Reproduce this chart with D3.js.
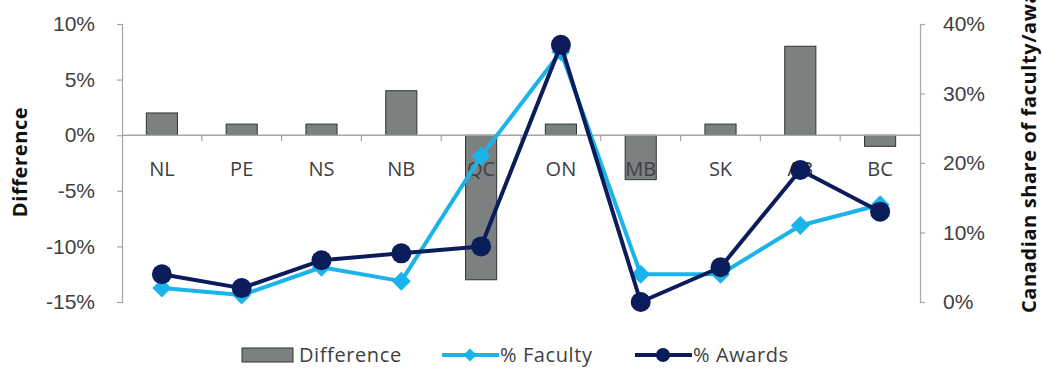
<!DOCTYPE html>
<html>
<head>
<meta charset="utf-8">
<script src="https://cdn.jsdelivr.net/npm/d3@7"></script>
<style>
  html, body { margin: 0; padding: 0; background: #fff; }
  svg { display: block; font-family: "Open Sans", "Noto Sans", sans-serif; }
</style>
</head>
<body>
<svg id="chart" width="1042" height="369"></svg>
<script>
// Provinces along the x axis
const provinces = ["NL", "PE", "NS", "NB", "QC", "ON", "MB", "SK", "AB", "BC"];
// Share of Canadian faculty (%), right axis
const facultyShare = [2, 1, 5, 3, 21, 36, 4, 4, 11, 14];
// Share of Canadian awards (%), right axis
const awardsShare = [4, 2, 6, 7, 8, 37, 0, 5, 19, 13];
// Awards minus faculty (%), left axis
const difference = [2, 1, 1, 4, -13, 1, -4, 1, 8, -1];
// Tick labels
const leftTicks = [10, 5, 0, -5, -10, -15];
const rightTicks = [0, 10, 20, 30, 40];

const svg = d3.select("#chart");
const plotLeft = 122, plotRight = 920, plotTop = 24, plotBottom = 302;
const fontSize = "21px";

const x = d3.scaleBand().domain(provinces).range([plotLeft, plotRight]).paddingInner(0).paddingOuter(0);
const yLeft = d3.scaleLinear().domain([-15, 10]).range([plotBottom, plotTop]);
const yRight = d3.scaleLinear().domain([0, 40]).range([plotBottom, plotTop]);

const axisColor = "#a6a6a6";
const textColor = "#404040";
const barFill = "#7b8180";
const barStroke = "#2f3432";
const facultyColor = "#1bb3ea";
const awardsColor = "#0b1c5a";

// Left axis
const gL = svg.append("g").attr("transform", `translate(${plotLeft},0)`)
  .call(d3.axisLeft(yLeft).tickValues(leftTicks).tickSize(5).tickPadding(22).tickFormat(d => d + "%"));
gL.select(".domain").attr("stroke", axisColor).attr("stroke-width", 1.2);
gL.selectAll(".tick line").attr("stroke", axisColor).attr("stroke-width", 1.2);
gL.selectAll(".tick text").attr("fill", textColor).style("font-size", fontSize);

// Right axis
const gR = svg.append("g").attr("transform", `translate(${plotRight},0)`)
  .call(d3.axisRight(yRight).tickValues(rightTicks).tickSize(5).tickPadding(18).tickFormat(d => d + "%"));
gR.select(".domain").attr("stroke", axisColor).attr("stroke-width", 1.2);
gR.selectAll(".tick line").attr("stroke", axisColor).attr("stroke-width", 1.2);
gR.selectAll(".tick text").attr("fill", textColor).style("font-size", fontSize);

// Category axis along the zero line
const y0 = yLeft(0);
const boundaries = provinces.slice(1).map(p => x(p));
svg.append("g").selectAll("line").data(boundaries).join("line")
  .attr("x1", d => d).attr("x2", d => d)
  .attr("y1", y0).attr("y2", y0 + 6)
  .attr("stroke", axisColor).attr("stroke-width", 1.2);

// Bars
const barW = x.bandwidth() * 0.39;
svg.append("g").selectAll("rect").data(provinces).join("rect")
  .attr("x", (d) => x(d) + (x.bandwidth() - barW) / 2)
  .attr("y", (d, i) => yLeft(Math.max(0, difference[i])))
  .attr("width", barW)
  .attr("height", (d, i) => Math.abs(yLeft(difference[i]) - y0))
  .attr("fill", barFill)
  .attr("stroke", barStroke)
  .attr("stroke-width", 1);

svg.append("line")
  .attr("x1", plotLeft).attr("x2", plotRight)
  .attr("y1", y0).attr("y2", y0)
  .attr("stroke", axisColor).attr("stroke-width", 1.5);

// Category labels
svg.append("g").selectAll("text").data(provinces).join("text")
  .attr("x", d => x(d) + x.bandwidth() / 2)
  .attr("y", y0 + 41)
  .attr("text-anchor", "middle")
  .attr("fill", textColor)
  .style("font-size", "20px")
  .text(d => d);

const cx = d => x(d) + x.bandwidth() / 2;

// % Faculty line with diamond markers
const lineF = d3.line().x((d, i) => cx(provinces[i])).y(d => yRight(d));
svg.append("path").datum(facultyShare)
  .attr("d", lineF).attr("fill", "none")
  .attr("stroke", facultyColor).attr("stroke-width", 4).attr("stroke-linejoin", "round");
const diamond = d3.symbol().type(d3.symbolDiamond2).size(230);
svg.append("g").selectAll("path").data(facultyShare).join("path")
  .attr("transform", (d, i) => `translate(${cx(provinces[i])},${yRight(d)})`)
  .attr("d", diamond)
  .attr("fill", facultyColor);

// % Awards line with circle markers
svg.append("path").datum(awardsShare)
  .attr("d", lineF).attr("fill", "none")
  .attr("stroke", awardsColor).attr("stroke-width", 4).attr("stroke-linejoin", "round");
svg.append("g").selectAll("circle").data(awardsShare).join("circle")
  .attr("cx", (d, i) => cx(provinces[i]))
  .attr("cy", d => yRight(d))
  .attr("r", 10)
  .attr("fill", awardsColor);

// Axis titles
svg.append("text")
  .attr("transform", `translate(27,162) rotate(-90)`)
  .attr("text-anchor", "middle")
  .attr("fill", "#111")
  .style("font-size", "20px").style("font-weight", "bold")
  .style("letter-spacing", "0.6px")
  .text("Difference");

svg.append("text")
  .attr("transform", `translate(1036,313) rotate(-90)`)
  .attr("text-anchor", "start")
  .attr("fill", "#111")
  .style("font-size", "20px").style("font-weight", "bold")
  .style("letter-spacing", "0.6px")
  .text("Canadian share of faculty/awards");

// Legend
const legY = 355;
const leg = svg.append("g").style("font-size", "20px").style("letter-spacing", "0.6px");
leg.append("rect").attr("x", 242).attr("y", legY - 7).attr("width", 51).attr("height", 14)
  .attr("fill", barFill).attr("stroke", barStroke).attr("stroke-width", 1);
leg.append("text").attr("x", 299).attr("y", legY + 7).attr("fill", textColor)
  .text("Difference");

leg.append("line").attr("x1", 442).attr("x2", 499).attr("y1", legY).attr("y2", legY)
  .attr("stroke", facultyColor).attr("stroke-width", 4);
leg.append("path").attr("transform", `translate(470,${legY})`)
  .attr("d", d3.symbol().type(d3.symbolDiamond2).size(110)).attr("fill", facultyColor);
leg.append("text").attr("x", 500).attr("y", legY + 7).attr("fill", textColor)
  .text("% Faculty");

leg.append("line").attr("x1", 635).attr("x2", 692).attr("y1", legY).attr("y2", legY)
  .attr("stroke", awardsColor).attr("stroke-width", 4);
leg.append("circle").attr("cx", 663).attr("cy", legY).attr("r", 7).attr("fill", awardsColor);
leg.append("text").attr("x", 693).attr("y", legY + 7).attr("fill", textColor)
  .text("% Awards");
</script>
</body>
</html>
